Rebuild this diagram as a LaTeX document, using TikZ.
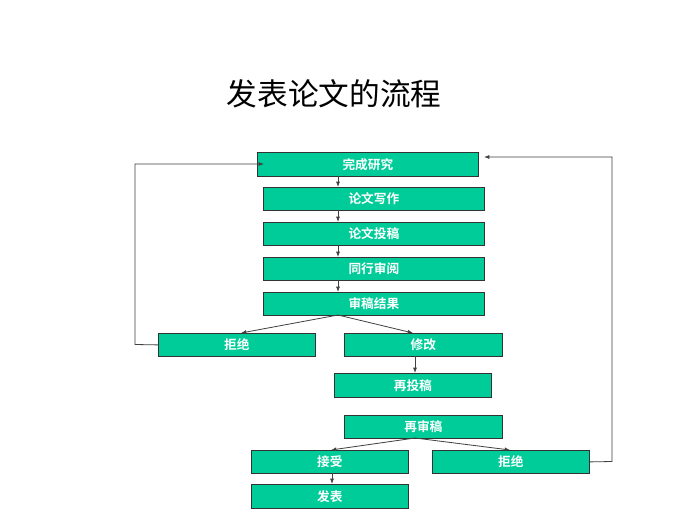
\documentclass[tikz,border=0pt]{standalone}
\usepackage{fontspec}
\newfontfamily\cjk{Noto Sans CJK SC}
\newfontfamily\cjkb{Noto Sans CJK SC Bold}
\usetikzlibrary{arrows.meta}
\definecolor{boxg}{HTML}{00CC99}
\begin{document}
\begin{tikzpicture}[x=0.75pt,y=-0.75pt,
  bx/.style={draw=black!80,fill=boxg,line width=0.6pt,inner sep=0pt,anchor=north west,text=white,font=\cjkb\fontsize{9.5pt}{10pt}\selectfont},
  ar/.style={-{Latex[length=4pt,width=3pt]},line width=0.6pt,black!75}]
\useasboundingbox[fill=white] (0,0) rectangle (700,525);
\node[font=\cjk\fontsize{23pt}{25pt}\selectfont] (title) at (334,94) {发表论文的流程};
\newcommand{\bxnode}[6]{\node[bx,minimum width={(#4-#2)*0.75pt},minimum height={(#5-#3)*0.75pt}] (#1) at (#2,#3) {#6};}
\bxnode{a}{257}{152}{478}{176}{完成研究}
\bxnode{b}{263}{187}{484}{210}{论文写作}
\bxnode{c}{263}{222}{484}{245}{论文投稿}
\bxnode{d}{263}{257}{484}{280}{同行审阅}
\bxnode{e}{263}{292}{484}{315}{审稿结果}
\bxnode{r1}{158}{333}{315}{356}{拒绝}
\bxnode{m}{344}{333}{502}{356}{修改}
\bxnode{s}{334}{373}{491}{397}{再投稿}
\bxnode{t}{344}{415}{502}{438}{再审稿}
\bxnode{acc}{251}{450}{408}{473}{接受}
\bxnode{r2}{432}{450}{589}{473}{拒绝}
\bxnode{p}{251}{484}{408}{508}{发表}
\draw[ar] (338,176) -- (338,187);
\draw[ar] (338,210) -- (338,222);
\draw[ar] (338,245) -- (338,257);
\draw[ar] (338,280) -- (338,292);
\coordinate (eb) at (338,315);
\draw[ar] (eb) -- (241,333);
\draw[ar] (eb) -- (413,333);
\draw[ar] (415,356) -- (415,373);
\coordinate (tb) at (415,438);
\draw[ar] (tb) -- (331,450);
\draw[ar] (tb) -- (510,450);
\draw[ar] (332,473) -- (332,484);
\draw[ar] (r1.west) -- (135,344.5) -- (135,164) -- (264,164);
\draw[ar] (r2.east) -- (612,461.5) -- (612,157) -- (484,157);
\end{tikzpicture}
\end{document}
